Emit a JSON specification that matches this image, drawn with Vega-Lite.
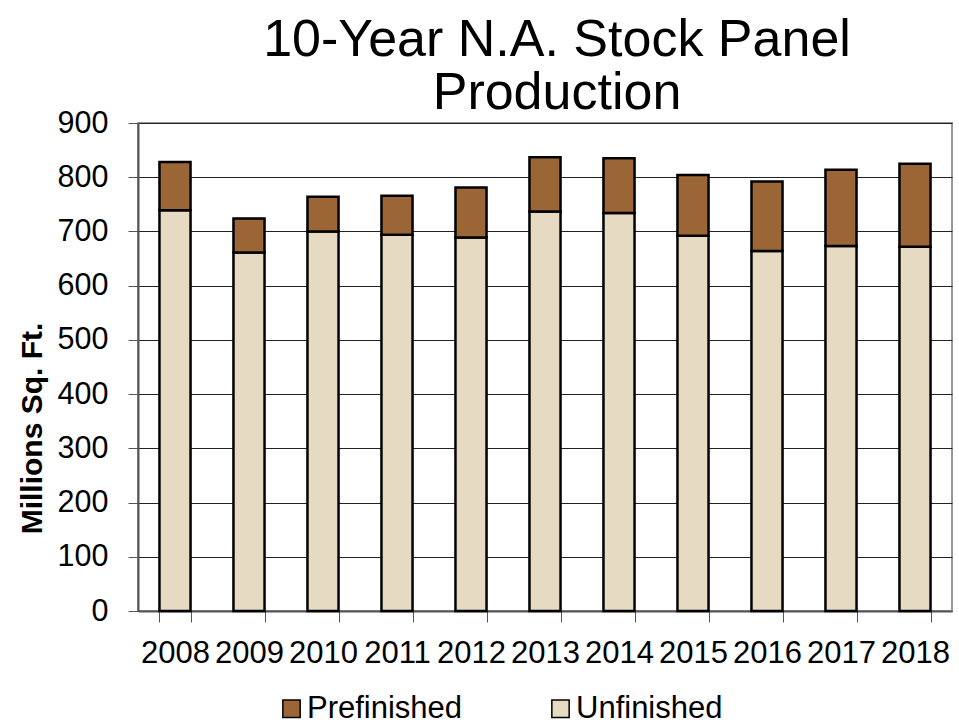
{
  "$schema": "https://vega.github.io/schema/vega-lite/v6.json",
  "width": 814,
  "height": 488,
  "autosize": {"type": "none"},
  "padding": {"left": 138, "top": 123, "right": 7, "bottom": 114},
  "background": "white",
  "title": {
    "text": ["10-Year N.A. Stock Panel", "Production"],
    "fontSize": 52,
    "font": "Liberation Sans",
    "fontWeight": "normal",
    "color": "black",
    "anchor": "middle",
    "dx": 12,
    "lineHeight": 53,
    "baseline": "alphabetic",
    "offset": -53
  },
  "config": {
    "font": "Liberation Sans",
    "view": {"stroke": "#999999", "strokeWidth": 2}
  },
  "data": {
    "values": [
      {"year": "2008", "type": "Unfinished", "value": 739},
      {"year": "2008", "type": "Prefinished", "value": 89},
      {"year": "2009", "type": "Unfinished", "value": 661},
      {"year": "2009", "type": "Prefinished", "value": 63},
      {"year": "2010", "type": "Unfinished", "value": 700},
      {"year": "2010", "type": "Prefinished", "value": 64},
      {"year": "2011", "type": "Unfinished", "value": 694},
      {"year": "2011", "type": "Prefinished", "value": 72},
      {"year": "2012", "type": "Unfinished", "value": 689},
      {"year": "2012", "type": "Prefinished", "value": 92},
      {"year": "2013", "type": "Unfinished", "value": 737},
      {"year": "2013", "type": "Prefinished", "value": 100},
      {"year": "2014", "type": "Unfinished", "value": 734},
      {"year": "2014", "type": "Prefinished", "value": 101},
      {"year": "2015", "type": "Unfinished", "value": 692},
      {"year": "2015", "type": "Prefinished", "value": 112},
      {"year": "2016", "type": "Unfinished", "value": 664},
      {"year": "2016", "type": "Prefinished", "value": 128},
      {"year": "2017", "type": "Unfinished", "value": 673},
      {"year": "2017", "type": "Prefinished", "value": 141},
      {"year": "2018", "type": "Unfinished", "value": 672},
      {"year": "2018", "type": "Prefinished", "value": 153}
    ]
  },
  "mark": {"type": "bar", "stroke": "black", "strokeWidth": 2.5},
  "encoding": {
    "x": {
      "field": "year",
      "type": "ordinal",
      "scale": {"paddingInner": 0.58, "paddingOuter": 0.29},
      "axis": {
        "title": null,
        "labelAngle": 0,
        "labelFontSize": 31,
        "labelColor": "black",
        "labelBaseline": "alphabetic",
        "labelPadding": 40,
        "labelOverlap": false,
        "tickBand": "extent",
        "tickSize": 11,
        "tickColor": "#555555",
        "domainColor": "#555555",
        "domainWidth": 2
      }
    },
    "y": {
      "field": "value",
      "type": "quantitative",
      "stack": "zero",
      "scale": {"domain": [0, 900], "nice": false},
      "axis": {
        "title": "Millions Sq. Ft.",
        "titleFontSize": 30,
        "titleFontWeight": "bold",
        "titleColor": "black",
        "titleX": -97,
        "titleY": 305,
        "titleAngle": -90,
        "titleAlign": "center",
        "titleBaseline": "alphabetic",
        "values": [0, 100, 200, 300, 400, 500, 600, 700, 800, 900],
        "labelFontSize": 30.5,
        "labelColor": "black",
        "labelPadding": 20,
        "tickSize": 10,
        "tickColor": "#555555",
        "domainColor": "#555555",
        "domainWidth": 2,
        "gridColor": "#222222",
        "gridWidth": 1
      }
    },
    "color": {
      "field": "type",
      "type": "nominal",
      "scale": {"domain": ["Prefinished", "Unfinished"], "range": ["#9c6535", "#e6dac3"]},
      "legend": {
        "title": null,
        "orient": "none",
        "legendX": 138,
        "legendY": 570,
        "padding": 0,
        "direction": "horizontal",
        "symbolType": "square",
        "symbolSize": 300,
        "symbolStrokeColor": "black",
        "symbolStrokeWidth": 1.5,
        "labelFontSize": 31,
        "labelColor": "black",
        "labelOffset": 0,
        "columnPadding": 82,
        "labelLimit": 0
      }
    },
    "order": {"field": "type", "sort": "descending"}
  }
}
